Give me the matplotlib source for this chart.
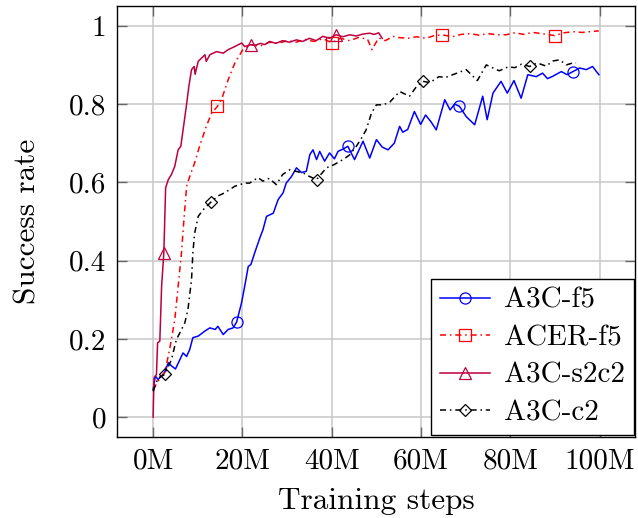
import matplotlib
matplotlib.use("Agg")
import matplotlib.pyplot as plt
import numpy as np

plt.rcParams["font.family"] = ["cmr10", "DejaVu Serif"]
plt.rcParams["axes.formatter.use_mathtext"] = True
plt.rcParams["mathtext.fontset"] = "cm"

# --- data (training steps in millions) ---
f5_x = [0, 0.5, 1.1, 1.9, 2.6, 3.4, 4.1, 5.0, 6.0, 6.7, 7.5, 8.2, 8.9, 10.1, 11.6,
        12.7, 13.9, 14.5, 15.7, 16.8, 17.9, 18.7, 19.8, 20.5, 21.3, 21.9, 22.75,
        23.9, 24.6, 25.4, 26.9, 28.0, 29.1, 29.8, 31.0, 32.1, 33.2, 34.3, 35.1,
        35.8, 36.6, 37.3, 38.4, 39.5, 40.6, 41.4, 42.5, 43.6, 45.1, 47.0, 48.5,
        50.0, 51.3, 52.6, 54.0, 55.2, 55.9, 57.0, 58.5, 59.9, 61.0, 62.2, 63.4,
        65.3, 66.5, 67.5, 68.6, 70.1, 72.0, 73.8, 74.8, 76.1, 77.9, 79.3, 80.8,
        82.4, 83.9, 85.8, 87.2, 88.3, 89.5, 91.4, 92.7, 94.0, 95.5, 97.0, 98.4, 99.8]
f5_y = [0.07, 0.105, 0.096, 0.105, 0.115, 0.139, 0.131, 0.123, 0.147, 0.164, 0.155,
        0.173, 0.203, 0.207, 0.22, 0.228, 0.224, 0.232, 0.211, 0.224, 0.228, 0.243,
        0.292, 0.334, 0.385, 0.39, 0.42, 0.458, 0.479, 0.513, 0.521, 0.556, 0.573,
        0.598, 0.615, 0.637, 0.625, 0.628, 0.671, 0.683, 0.658, 0.679, 0.654, 0.675,
        0.66, 0.679, 0.685, 0.692, 0.658, 0.705, 0.662, 0.709, 0.69, 0.683, 0.70,
        0.743, 0.728, 0.735, 0.781, 0.748, 0.772, 0.755, 0.734, 0.811, 0.785, 0.80,
        0.794, 0.768, 0.747, 0.82, 0.76, 0.828, 0.858, 0.828, 0.86, 0.815, 0.875,
        0.87, 0.879, 0.865, 0.871, 0.883, 0.875, 0.883, 0.892, 0.888, 0.896, 0.875]
f5_marks = [18.7, 43.6, 68.6, 94.0]

acer_x = [0, 1, 2, 2.6, 3.7, 4.85, 5.6, 6.35, 6.9, 7.5, 8.2, 9.3, 10.4, 11.9, 13.1,
          14.4, 15.3, 16.8, 18.3, 20.1, 22, 24, 26, 28, 30, 32, 34, 36, 38, 40, 42,
          44, 46, 48, 49, 50.5, 52, 53.7, 55, 57, 59, 61, 63, 64.7, 67, 69, 71, 73,
          75, 77, 79, 81, 83, 85, 87, 89.9, 92, 94, 96, 97.8, 99.8]
acer_y = [0.07, 0.09, 0.105, 0.114, 0.173, 0.249, 0.334, 0.42, 0.505, 0.59, 0.615,
          0.65, 0.692, 0.743, 0.777, 0.794, 0.811, 0.862, 0.905, 0.939, 0.951, 0.948,
          0.958, 0.955, 0.962, 0.958, 0.965, 0.96, 0.967, 0.957, 0.968, 0.962, 0.97,
          0.966, 0.939, 0.969, 0.962, 0.973, 0.97, 0.968, 0.972, 0.968, 0.975, 0.977,
          0.972, 0.978, 0.98, 0.976, 0.98, 0.977, 0.977, 0.982, 0.978, 0.983, 0.98,
          0.975, 0.982, 0.985, 0.983, 0.985, 0.987]
acer_marks = [14.4, 40, 64.7, 89.9]

s2c2_x = [0, 0.2, 0.75, 1.0, 1.5, 1.9, 2.4, 2.8, 3.4, 4.1, 4.85, 5.6, 6.2, 6.9, 7.5,
          8.0, 8.6, 9.2, 9.4, 10.1, 10.8, 11.6, 11.9, 12.7, 14.2, 15.7, 16.8, 18.3,
          19.8, 20.5, 22, 22.8, 24, 25, 26.1, 27.5, 29, 30.5, 32.1, 33.5, 35, 36.5,
          38, 39.5, 41, 42.5, 44, 45.5, 47, 48.5, 49.5, 50.5, 51.3]
s2c2_y = [0.0, 0.10, 0.109, 0.19, 0.194, 0.334, 0.42, 0.586, 0.607, 0.62, 0.641,
          0.683, 0.692, 0.75, 0.80, 0.845, 0.888, 0.896, 0.876, 0.909, 0.917, 0.926,
          0.909, 0.926, 0.934, 0.93, 0.939, 0.947, 0.956, 0.947, 0.952, 0.95, 0.955,
          0.952, 0.96, 0.955, 0.962, 0.958, 0.964, 0.96, 0.968, 0.962, 0.973, 0.968,
          0.977, 0.972, 0.977, 0.974, 0.979, 0.981, 0.978, 0.982, 0.968]
s2c2_marks = [2.4, 22, 41]

c2_x = [0, 1.1, 2.6, 4.1, 5.2, 6.2, 7.1, 7.8, 8.6, 8.9, 9.3, 10.1, 11.2, 12.9, 14.5,
        16, 18.3, 20.5, 21.6, 23.5, 24.6, 26, 27.6, 29, 30.6, 32, 33.6, 35, 36.6,
        38.8, 40.5, 42.5, 44, 45.5, 46.5, 47.7, 48.9, 50, 51.5, 53, 55.2, 57.4, 59,
        60.4, 62, 64, 65.5, 67.1, 70.1, 72.6, 74.6, 77.5, 79.5, 81, 82.5, 84.3, 86,
        88, 89.5, 91, 92.5, 94, 94.7]
c2_y = [0.066, 0.10, 0.109, 0.147, 0.198, 0.22, 0.241, 0.275, 0.351, 0.42, 0.47,
        0.513, 0.53, 0.549, 0.565, 0.573, 0.59, 0.598, 0.598, 0.612, 0.603, 0.61,
        0.594, 0.62, 0.632, 0.628, 0.624, 0.615, 0.607, 0.637, 0.645, 0.658, 0.67,
        0.692, 0.71, 0.734, 0.777, 0.798, 0.798, 0.805, 0.832, 0.82, 0.845, 0.858,
        0.855, 0.87, 0.868, 0.875, 0.888, 0.86, 0.90, 0.885, 0.895, 0.893, 0.902,
        0.896, 0.905, 0.897, 0.91, 0.913, 0.9, 0.905, 0.905]
c2_marks = [2.6, 12.9, 36.6, 60.4, 84.3]

x_ticks = [0, 20, 40, 60, 80, 100]
x_tick_labels = ["0M", "20M", "40M", "60M", "80M", "100M"]
y_ticks = [0, 0.2, 0.4, 0.6, 0.8, 1]
y_tick_labels = ["0", "0.2", "0.4", "0.6", "0.8", "1"]


def mark_idx(xs, marks):
    xs = np.asarray(xs)
    return [int(np.argmin(np.abs(xs - m))) for m in marks]


dashdot = (0, (4, 2.5, 1, 2.5))
series = [
    (f5_x, f5_y, f5_marks, "A3C-f5", "#0000ff", "-", "o"),
    (acer_x, acer_y, acer_marks, "ACER-f5", "#ff0000", dashdot, "s"),
    (s2c2_x, s2c2_y, s2c2_marks, "A3C-s2c2", "#bf0040", "-", "^"),
    (c2_x, c2_y, c2_marks, "A3C-c2", "black", dashdot, "D"),
]

fig, ax = plt.subplots(figsize=(6.38, 5.18), dpi=100)
fig.subplots_adjust(left=0.184, right=0.996, top=0.988, bottom=0.157)

for xs, ys, marks, label, color, ls, mk in series:
    ms = 6.5 if mk == "D" else 8
    ax.plot(xs, ys, color=color, ls=ls, lw=1.1, marker=mk, ms=ms,
            mfc="none", mec=color, mew=0.9, markevery=mark_idx(xs, marks),
            label=label)

ax.set_xlim(-8, 108)
ax.set_ylim(-0.05, 1.05)
ax.set_xticks(x_ticks)
ax.set_xticklabels(x_tick_labels)
ax.set_yticks(y_ticks)
ax.set_yticklabels(y_tick_labels)
ax.tick_params(direction="in", length=7, width=1, color="#666666",
               top=True, right=True, labelsize=21, pad=8)
ax.grid(True, color="#c8c8c8", lw=1.1)
ax.set_axisbelow(True)
for sp in ax.spines.values():
    sp.set_linewidth(1.0)

ax.set_xlabel("Training steps", fontsize=22.5, labelpad=9)
ax.set_ylabel("Success rate", fontsize=22.5, labelpad=20)

leg = ax.legend(loc="lower right", fontsize=21, numpoints=1, handlelength=1.7,
                borderaxespad=0.05, fancybox=False, framealpha=1,
                edgecolor="black", borderpad=0.3, labelspacing=0.38,
                handletextpad=0.5)
leg.get_frame().set_linewidth(1.0)

fig.savefig("out.png", dpi=100)
